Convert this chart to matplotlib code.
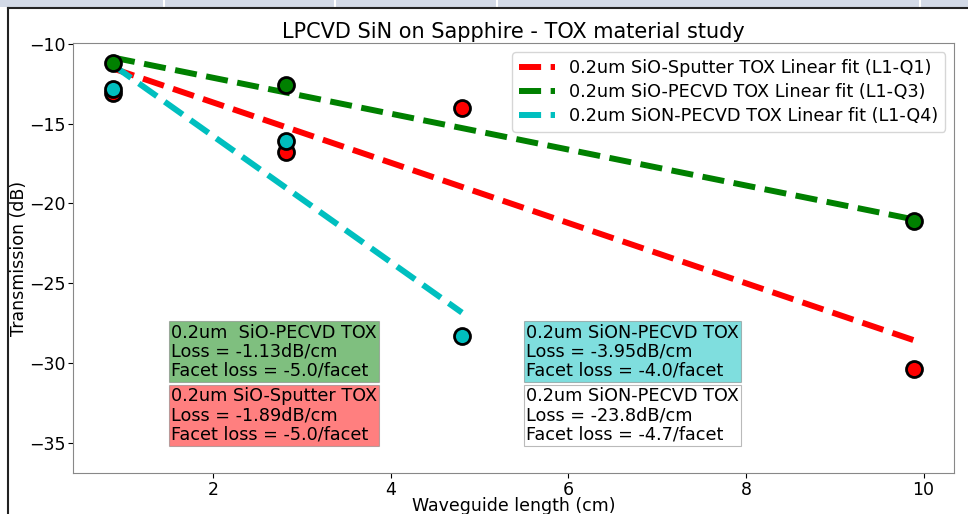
#!/usr/bin/env python3
"""LPCVD SiN on Sapphire - TOX material study: transmission vs waveguide length."""
import numpy as np
import matplotlib
matplotlib.use("Agg")
import matplotlib.pyplot as plt
from matplotlib.patches import Rectangle
from matplotlib.lines import Line2D

# Measured transmission (dB) vs waveguide length (cm)
len_sputter = [0.87, 2.82, 4.80, 9.89]
tx_sputter = [-13.1, -16.8, -14.0, -30.4]

len_pecvd = [0.87, 2.82, 9.89]
tx_pecvd = [-11.2, -12.6, -21.1]

len_sion = [0.87, 2.82, 4.80]
tx_sion = [-12.8, -16.1, -28.3]

fit_labels = [
    '0.2um SiO-Sputter TOX Linear fit (L1-Q1)',
    '0.2um SiO-PECVD TOX Linear fit (L1-Q3)',
    '0.2um SiON-PECVD TOX Linear fit (L1-Q4)',
]

box_texts = [
    '0.2um  SiO-PECVD TOX\nLoss = -1.13dB/cm\nFacet loss = -5.0/facet',
    '0.2um SiO-Sputter TOX\nLoss = -1.89dB/cm\nFacet loss = -5.0/facet',
    '0.2um SiON-PECVD TOX\nLoss = -3.95dB/cm\nFacet loss = -4.0/facet',
    '0.2um SiON-PECVD TOX\nLoss = -23.8dB/cm\nFacet loss = -4.7/facet',
]


def plot_fit(ax, x, y, color, label):
    """Scatter the data and draw its least-squares line."""
    x = np.asarray(x)
    slope, icpt = np.polyfit(x, y, 1)
    ax.plot(x, slope * x + icpt, '--', color=color, linewidth=4.3, label=label, zorder=2)
    ax.plot(x, y, 'o', color=color, markersize=11.5, markeredgecolor='black',
            markeredgewidth=2, zorder=3)


fig = plt.figure(figsize=(9.68, 5.14), dpi=100)
ax = fig.add_axes([0.0754, 0.080, 0.910, 0.836])

plot_fit(ax, len_sputter, tx_sputter, 'red', fit_labels[0])
plot_fit(ax, len_pecvd, tx_pecvd, 'green', fit_labels[1])
plot_fit(ax, len_sion, tx_sion, 'c', fit_labels[2])

ax.set_ylim(-36.9, -9.95)
ax.set_yticks([-35, -30, -25, -20, -15, -10])
ax.set_xticks([2, 4, 6, 8, 10])
ax.tick_params(labelsize=12.5, pad=2)
for sp in ax.spines.values():
    sp.set_color('#888888')

ax.set_xlabel('Waveguide length (cm)', fontsize=12.5)
ax.set_ylabel('Transmission (dB)', fontsize=12.5)
ax.xaxis.set_label_coords(0.5, -0.056)
ax.yaxis.set_label_coords(-0.051, 0.5)
ax.set_title('LPCVD SiN on Sapphire - TOX material study', fontsize=15, pad=4)

ax.legend(loc='upper right', fontsize=12.7, handlelength=2.0, labelspacing=0.33,
          borderaxespad=0.5)

# Annotation boxes with the fit results
box_style = dict(boxstyle='square,pad=0.12', alpha=0.5, edgecolor='#777777', linewidth=0.8)
text_kw = dict(fontsize=12.7, va='center', linespacing=1.08)
ax.text(1.52, -29.3, box_texts[0], bbox=dict(facecolor='green', **box_style), **text_kw)
ax.text(1.52, -33.3, box_texts[1], bbox=dict(facecolor='red', **box_style), **text_kw)
ax.text(5.52, -29.3, box_texts[2], bbox=dict(facecolor='c', **box_style), **text_kw)
ax.text(5.52, -33.3, box_texts[3], bbox=dict(facecolor='white', **box_style), **text_kw)

# Screenshot frame around the figure
fig.add_artist(Rectangle((0, 1 - 7 / 514), 1, 7 / 514, transform=fig.transFigure,
                         facecolor='#d2d9e6', edgecolor='none'))
for xd in [164, 335, 497, 920]:
    fig.add_artist(Line2D([xd / 968] * 2, [1 - 7 / 514, 1], transform=fig.transFigure,
                          color='white', linewidth=1.5))
fig.add_artist(Line2D([8 / 968, 1], [1 - 7.5 / 514] * 2, transform=fig.transFigure,
                      color='#222222', linewidth=1.5))
fig.add_artist(Line2D([8 / 968] * 2, [0, 1 - 7.5 / 514], transform=fig.transFigure,
                      color='#222222', linewidth=1.5))

fig.savefig('out.png', dpi=100)
